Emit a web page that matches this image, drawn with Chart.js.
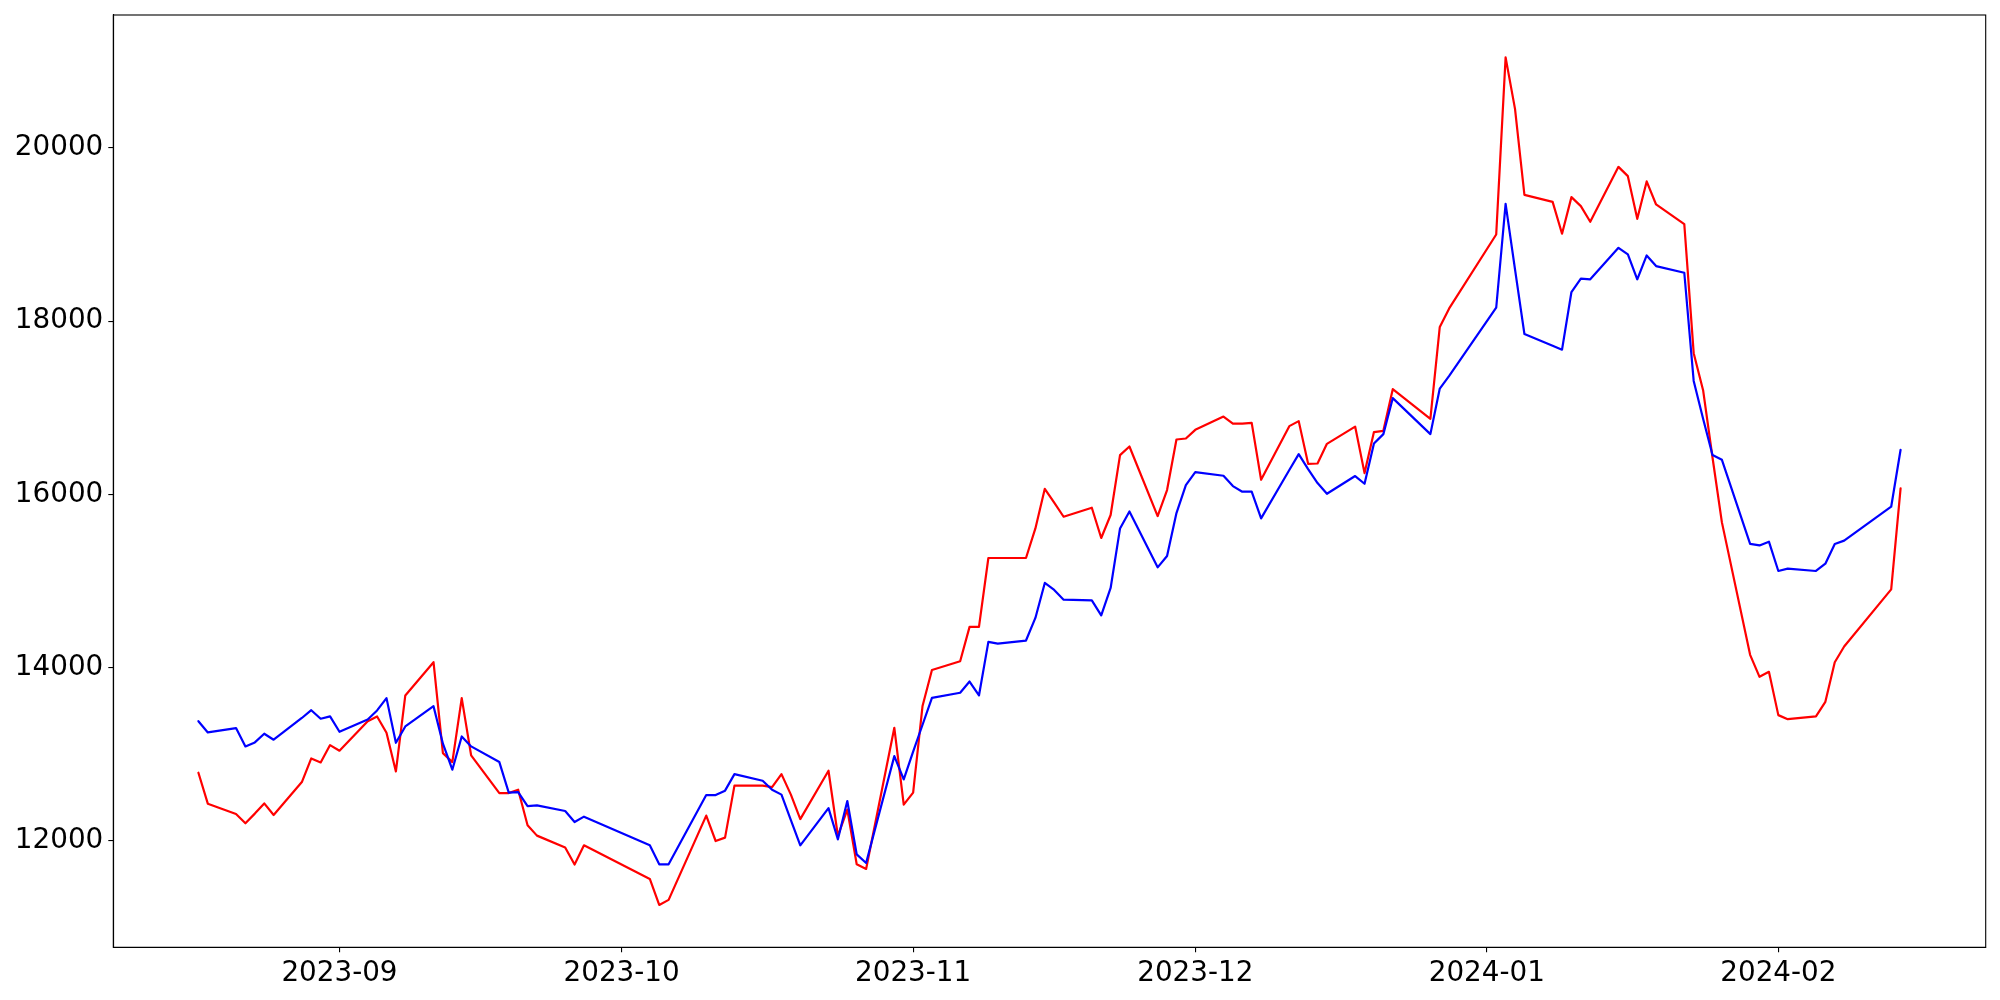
<!DOCTYPE html>
<html><head><meta charset="utf-8">
<script src="https://cdn.jsdelivr.net/npm/chart.js@4/dist/chart.umd.min.js"></script>
<style>html,body{margin:0;padding:0;background:#fff}#wrap{width:2000px;height:1000px}</style>
</head><body><div id="wrap"><canvas id="c" width="2000" height="1000"></canvas></div>
<script>
const dates = [
'2023-08-17','2023-08-18','2023-08-21','2023-08-22','2023-08-23','2023-08-24','2023-08-25','2023-08-28','2023-08-29','2023-08-30','2023-08-31',
'2023-09-01','2023-09-04','2023-09-05','2023-09-06','2023-09-07','2023-09-08','2023-09-11','2023-09-12','2023-09-13','2023-09-14','2023-09-15','2023-09-18','2023-09-19','2023-09-20','2023-09-21','2023-09-22','2023-09-25','2023-09-26','2023-09-27',
'2023-10-04','2023-10-05','2023-10-06','2023-10-10','2023-10-11','2023-10-12','2023-10-13','2023-10-16','2023-10-17','2023-10-18','2023-10-19','2023-10-20','2023-10-23','2023-10-24','2023-10-25','2023-10-26','2023-10-27','2023-10-30','2023-10-31',
'2023-11-01','2023-11-02','2023-11-03','2023-11-06','2023-11-07','2023-11-08','2023-11-09','2023-11-10','2023-11-13','2023-11-14','2023-11-15','2023-11-16','2023-11-17','2023-11-20','2023-11-21','2023-11-22','2023-11-23','2023-11-24','2023-11-27','2023-11-28','2023-11-29','2023-11-30',
'2023-12-01','2023-12-04','2023-12-05','2023-12-06','2023-12-07','2023-12-08','2023-12-11','2023-12-12','2023-12-13','2023-12-14','2023-12-15','2023-12-18','2023-12-19','2023-12-20','2023-12-21','2023-12-22','2023-12-26','2023-12-27','2023-12-28',
'2024-01-02','2024-01-03','2024-01-04','2024-01-05','2024-01-08','2024-01-09','2024-01-10','2024-01-11','2024-01-12','2024-01-15','2024-01-16','2024-01-17','2024-01-18','2024-01-19','2024-01-22','2024-01-23','2024-01-24','2024-01-25','2024-01-26','2024-01-29','2024-01-30','2024-01-31',
'2024-02-01','2024-02-02','2024-02-05','2024-02-06','2024-02-07','2024-02-08','2024-02-13','2024-02-14'
];
const redValues = [
12787,12430,12310,12203,12315,12433,12299,12679,12952,12906,13106,
13041,13382,13437,13248,12802,13679,14063,13013,12910,13648,12987,12552,12552,12591,12180,12061,11923,11727,11949,
11561,11261,11319,12292,11999,12038,12638,12638,12621,12771,12534,12252,12810,12057,12361,11730,11676,13306,12418,
12557,13558,13973,14074,14471,14471,15266,15266,15266,15607,16065,15904,15742,15846,15497,15762,16454,16553,15750,16050,16634,16645,
16745,16899,16818,16818,16826,16169,16788,16846,16353,16357,16584,16783,16246,16719,16734,17215,16872,17933,18147,
19000,21045,20450,19458,19377,19009,19432,19328,19147,19781,19674,19181,19613,19347,19120,17630,17203,16426,15677,14148,13894,13952,
13452,13405,13437,13606,14063,14244,14904,16069
];
const blueValues = [
13382,13252,13302,13091,13137,13237,13168,13419,13509,13410,13437,
13260,13402,13506,13648,13133,13321,13555,13122,12822,13206,13091,12910,12557,12564,12402,12410,12345,12218,12280,
11949,11730,11730,12529,12529,12580,12771,12695,12591,12534,12241,11949,12379,12018,12460,11845,11745,12979,12710,
13030,13341,13652,13710,13840,13679,14298,14278,14313,14574,14978,14897,14785,14777,14604,14920,15607,15803,15158,15289,15785,16108,
16258,16215,16096,16031,16031,15723,16281,16465,16292,16131,16007,16212,16123,16587,16696,17111,16696,17222,17368,
18155,19354,18598,17852,17717,17671,18336,18490,18483,18847,18771,18483,18759,18636,18559,17310,16874,16454,16399,15428,15411,15454,
15116,15143,15116,15200,15428,15466,15858,16515
];
const xTickDates = ['2023-09-01','2023-10-01','2023-11-01','2023-12-01','2024-01-01','2024-02-01'];
const xTickLabels = ['2023-09','2023-10','2023-11','2023-12','2024-01','2024-02'];
const yTickValues = [12000,14000,16000,18000,20000];

const DAY = 86400000;
const toDay = s => Date.parse(s + 'T00:00:00Z') / DAY;
const xs = dates.map(toDay);
const xLo = Math.min(...xs), xHi = Math.max(...xs);
const allY = redValues.concat(blueValues);
const yLo = Math.min(...allY), yHi = Math.max(...allY);
const xPad = (xHi - xLo) * 0.05, yPad = (yHi - yLo) * 0.05;

const font = {family: 'DejaVu Sans', size: 27.8};
const frame = {
  id: 'frame',
  afterDraw(chart) {
    const a = chart.chartArea, ctx = chart.ctx;
    ctx.save(); ctx.strokeStyle = '#000'; ctx.lineWidth = 1.1;
    ctx.strokeRect(a.left, a.top, a.right - a.left, a.bottom - a.top);
    ctx.restore();
  }
};

new Chart(document.getElementById('c'), {
  type: 'line',
  data: {
    datasets: [
      {data: xs.map((x, i) => ({x, y: redValues[i]})), borderColor: '#ff0000', borderWidth: 2.2, order: 1},
      {data: xs.map((x, i) => ({x, y: blueValues[i]})), borderColor: '#0000ff', borderWidth: 2.2, order: 0}
    ]
  },
  options: {
    responsive: false, animation: false, devicePixelRatio: 1,
    layout: {padding: {top: 15, right: 14.3, left: 0, bottom: 0}},
    plugins: {legend: {display: false}, tooltip: {enabled: false}},
    elements: {point: {radius: 0}, line: {tension: 0, fill: false, borderJoinStyle: 'round', borderCapStyle: 'round'}},
    scales: {
      x: {
        type: 'linear', min: xLo - xPad, max: xHi + xPad,
        afterBuildTicks: s => { s.ticks = xTickDates.map(d => ({value: toDay(d)})); },
        afterFit: s => { s.height = 52.7; s.paddingLeft = 0; s.paddingRight = 0; },
        ticks: {callback: (v, i) => xTickLabels[i], font, color: '#000', padding: 5, maxRotation: 0, autoSkip: false},
        grid: {drawOnChartArea: false, color: '#000', tickLength: 5, lineWidth: 1.1},
        border: {color: '#000', width: 1.1}
      },
      y: {
        type: 'linear', min: yLo - yPad, max: yHi + yPad,
        afterBuildTicks: s => { s.ticks = yTickValues.map(v => ({value: v})); },
        afterFit: s => { s.width = 113.3; s.paddingTop = 0; s.paddingBottom = 0; },
        ticks: {callback: v => String(v), font, color: '#000', padding: 5, autoSkip: false},
        grid: {drawOnChartArea: false, color: '#000', tickLength: 5, lineWidth: 1.1},
        border: {color: '#000', width: 1.1}
      }
    }
  },
  plugins: [frame]
});
</script>
</body></html>
